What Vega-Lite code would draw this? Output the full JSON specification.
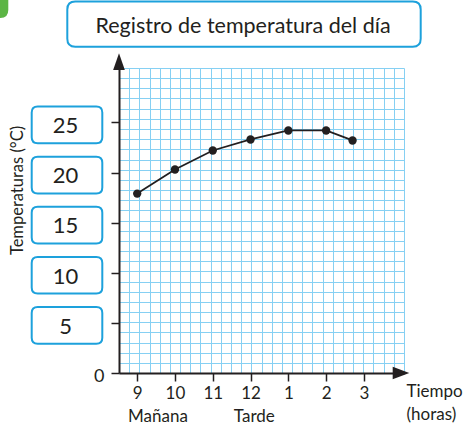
{
  "$schema": "https://vega.github.io/schema/vega-lite/v6.json",
  "width": 285,
  "height": 305,
  "autosize": {"type": "none"},
  "padding": {"left": 119, "top": 68, "right": 60, "bottom": 52},
  "background": "white",
  "config": {
    "view": {"stroke": null},
    "font": "Lato",
    "axis": {"labelColor": "#231f20", "titleColor": "#231f20", "titleFontWeight": "normal", "labelFont": "Lato", "titleFont": "Lato"}
  },
  "datasets": {
    "temps": [
      {"hora": 9, "temp": 17.9},
      {"hora": 10, "temp": 20.3},
      {"hora": 11, "temp": 22.2},
      {"hora": 12, "temp": 23.3},
      {"hora": 13, "temp": 24.2},
      {"hora": 14, "temp": 24.2},
      {"hora": 14.7, "temp": 23.2}
    ],
    "ylabels": [{"v": 5}, {"v": 10}, {"v": 15}, {"v": 20}, {"v": 25}],
    "periodos": [{"hora": 9.55, "texto": "Mañana"}, {"hora": 12.1, "texto": "Tarde"}]
  },
  "layer": [
    {
      "data": {"name": "temps"},
      "mark": {"type": "line", "color": "#231f20", "strokeWidth": 1.8},
      "encoding": {
        "x": {
          "field": "hora", "type": "quantitative",
          "scale": {"domain": [8.5183, 16.0615], "nice": false, "zero": false},
          "axis": {
            "orient": "bottom",
            "grid": true, "labels": false, "ticks": false, "domain": false, "title": null,
            "gridColor": "#86d0f3", "gridWidth": 1, "gridOpacity": 1,
            "values": [8.5183, 8.7877, 9.0571, 9.3265, 9.5959, 9.8653, 10.1347, 10.4041, 10.6735, 10.9429, 11.2123, 11.4817, 11.7511, 12.0205, 12.2899, 12.5593, 12.8287, 13.0981, 13.3675, 13.6369, 13.9063, 14.1757, 14.4451, 14.7145, 14.9839, 15.2533, 15.5227, 15.7921, 16.0615]
          }
        },
        "y": {
          "field": "temp", "type": "quantitative",
          "scale": {"domain": [0, 30.43], "nice": false, "zero": false},
          "axis": {
            "orient": "left",
            "grid": true, "labels": false, "ticks": false, "domain": false, "title": null,
            "gridColor": "#86d0f3", "gridWidth": 1, "gridOpacity": 1,
            "values": [0, 1.0143, 2.0287, 3.043, 4.0573, 5.0717, 6.086, 7.1003, 8.1147, 9.129, 10.1433, 11.1577, 12.172, 13.1863, 14.2007, 15.215, 16.2293, 17.2437, 18.258, 19.2723, 20.2867, 21.301, 22.3153, 23.3297, 24.344, 25.3583, 26.3727, 27.387, 28.4013, 29.4157, 30.43]
          }
        }
      }
    },
    {
      "data": {"name": "temps"},
      "mark": {"type": "circle", "color": "#231f20", "size": 70, "opacity": 1},
      "encoding": {
        "x": {
          "field": "hora", "type": "quantitative",
          "axis": {
            "orient": "bottom",
            "zindex": 1, "grid": false,
            "values": [9, 10, 11, 12, 13, 14, 15],
            "labelExpr": "datum.value > 12 ? datum.value - 12 : datum.value",
            "domainColor": "#231f20", "domainWidth": 2,
            "tickColor": "#231f20", "tickWidth": 1.5, "tickSize": 8,
            "labelFontSize": 17, "labelPadding": 4.5,
            "title": ["Tiempo", "(horas)"],
            "titleFontSize": 17, "titleX": 287, "titleY": 23.5,
            "titleAlign": "left", "titleBaseline": "alphabetic", "titleLineHeight": 22.5
          }
        },
        "y": {
          "field": "temp", "type": "quantitative",
          "axis": {
            "orient": "left",
            "zindex": 1, "grid": false,
            "values": [0, 5, 10, 15, 20, 25],
            "labelExpr": "datum.value == 0 ? '0' : ''",
            "domainColor": "#231f20", "domainWidth": 2,
            "tickColor": "#231f20", "tickWidth": 1.5, "tickSize": 8,
            "labelFontSize": 18, "labelPadding": 7, "labelOffset": 3,
            "title": "Temperaturas (°C)",
            "titleFontSize": 16.5, "titleX": -97, "titleY": 122,
            "titleAngle": 270, "titleAlign": "center", "titleBaseline": "alphabetic"
          }
        }
      }
    },
    {
      "data": {"name": "ylabels"},
      "mark": {
        "type": "point", "filled": false, "opacity": 1, "stroke": "#1da1dc", "strokeWidth": 2,
        "size": 4984, "yOffset": 2.5,
        "shape": "M -0.83 -0.52 L 0.83 -0.52 Q 1 -0.52 1 -0.35 L 1 0.35 Q 1 0.52 0.83 0.52 L -0.83 0.52 Q -1 0.52 -1 0.35 L -1 -0.35 Q -1 -0.52 -0.83 -0.52 Z"
      },
      "encoding": {
        "x": {"value": -52},
        "y": {"field": "v", "type": "quantitative", "axis": null}
      }
    },
    {
      "data": {"name": "ylabels"},
      "mark": {"type": "text", "fontSize": 22, "color": "#231f20", "align": "center", "baseline": "middle", "dy": 3.8},
      "encoding": {
        "x": {"value": -53.5},
        "y": {"field": "v", "type": "quantitative", "axis": null},
        "text": {"field": "v", "type": "quantitative"}
      }
    },
    {
      "data": {"name": "periodos"},
      "mark": {"type": "text", "fontSize": 17, "color": "#231f20", "align": "center", "baseline": "alphabetic"},
      "encoding": {
        "x": {"field": "hora", "type": "quantitative", "axis": null},
        "y": {"value": 354},
        "text": {"field": "texto"}
      }
    },
    {
      "data": {"values": [{"titulo": "Registro de temperatura del día"}]},
      "mark": {
        "type": "point", "filled": false, "opacity": 1, "stroke": "#1da1dc", "strokeWidth": 2,
        "size": 124892,
        "shape": "M -0.955 -0.128 L 0.955 -0.128 Q 1 -0.128 1 -0.083 L 1 0.083 Q 1 0.128 0.955 0.128 L -0.955 0.128 Q -1 0.128 -1 0.083 L -1 -0.083 Q -1 -0.128 -0.955 -0.128 Z"
      },
      "encoding": {"x": {"value": 125}, "y": {"value": -43.9}}
    },
    {
      "data": {"values": [{"titulo": "Registro de temperatura del día"}]},
      "mark": {"type": "text", "fontSize": 21.5, "color": "#231f20", "align": "center", "baseline": "alphabetic"},
      "encoding": {"x": {"value": 124}, "y": {"value": -35.3}, "text": {"field": "titulo"}}
    },
    {
      "data": {"values": [{}]},
      "mark": {"type": "point", "filled": true, "opacity": 1, "color": "#231f20", "size": 279, "shape": "M 0 -1 L 0.7 1 L -0.7 1 Z"},
      "encoding": {
        "x": {"datum": 8.5183, "type": "quantitative", "axis": null},
        "y": {"datum": 31.07, "type": "quantitative", "axis": null}
      }
    },
    {
      "data": {"values": [{}]},
      "mark": {"type": "point", "filled": true, "opacity": 1, "color": "#231f20", "size": 276, "shape": "M 1 0 L -1 0.75 L -1 -0.75 Z"},
      "encoding": {
        "x": {"datum": 15.982, "type": "quantitative", "axis": null},
        "y": {"datum": 0, "type": "quantitative", "axis": null}
      }
    },
    {
      "data": {"values": [{}]},
      "mark": {"type": "point", "filled": true, "opacity": 1, "color": "#5cb545", "size": 900, "shape": "M -1 -1 L 1 -1 L 1 0.47 Q 1 1 0.47 1 L -1 1 Z"},
      "encoding": {"x": {"value": -125.7}, "y": {"value": -65}}
    }
  ],
  "resolve": {"axis": {"x": "independent", "y": "independent"}}
}
